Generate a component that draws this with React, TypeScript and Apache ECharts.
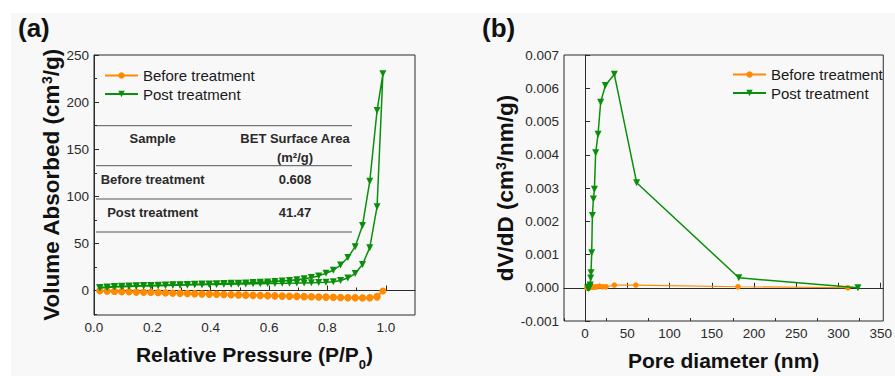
import React, { useEffect, useRef } from 'react';
import * as echarts from 'echarts';

// ---------- Panel (a): N2 adsorption-desorption isotherms ----------
const pressureAds = [0.02, 0.045, 0.07, 0.095, 0.12, 0.145, 0.17, 0.195, 0.22, 0.245, 0.27, 0.295, 0.32, 0.345, 0.37, 0.395, 0.42, 0.445, 0.47, 0.495, 0.52, 0.545, 0.57, 0.595, 0.62, 0.645, 0.67, 0.695, 0.72, 0.745, 0.77, 0.795, 0.82, 0.845, 0.87, 0.895, 0.92, 0.945, 0.97, 0.99];
const postAds = [2.6, 3.2, 3.6, 3.9, 4.2, 4.5, 4.7, 4.9, 5.1, 5.3, 5.5, 5.7, 5.9, 6.0, 6.2, 6.3, 6.5, 6.6, 6.7, 6.9, 7.0, 7.1, 7.2, 7.4, 7.5, 7.6, 7.8, 7.9, 8.1, 8.3, 8.5, 8.8, 9.4, 10.7, 13.2, 18.0, 27.6, 45.5, 89.0, 230.0];
const beforeAds = [-0.3, -0.7, -0.9, -1.2, -1.3, -1.6, -1.8, -1.9, -2.2, -2.3, -2.6, -2.7, -3.0, -3.1, -3.4, -3.5, -3.8, -3.9, -4.2, -4.3, -4.6, -4.7, -5.0, -5.1, -5.4, -5.5, -5.8, -5.9, -6.2, -6.3, -6.6, -6.7, -7.0, -7.1, -7.4, -7.5, -7.7, -7.5, -6.2, -0.6];

const pressureDes = [0.97, 0.945, 0.92, 0.895, 0.87, 0.845, 0.82, 0.795, 0.77, 0.745, 0.72, 0.695, 0.67, 0.645, 0.62, 0.595, 0.57, 0.545, 0.52, 0.495, 0.47, 0.445, 0.42, 0.395, 0.37, 0.345, 0.32, 0.295, 0.27, 0.245, 0.22, 0.195, 0.17, 0.145, 0.12, 0.095, 0.07, 0.045, 0.02];
const postDes = [191.0, 116.0, 69.0, 46.5, 35.0, 27.0, 21.5, 18.3, 15.5, 13.8, 12.5, 11.4, 10.6, 10.0, 9.5, 9.1, 8.7, 8.4, 8.1, 7.8, 7.6, 7.4, 7.2, 7.0, 6.8, 6.6, 6.4, 6.2, 6.0, 5.8, 5.6, 5.4, 5.2, 5.0, 4.8, 4.5, 4.2, 3.8, 3.2];
const beforeDes = [-7.0, -7.9, -8.0, -7.9, -7.8, -7.6, -7.4, -7.3, -7.1, -6.9, -6.8, -6.6, -6.4, -6.2, -6.0, -5.8, -5.6, -5.4, -5.2, -5.0, -4.8, -4.6, -4.3, -4.1, -3.9, -3.6, -3.4, -3.2, -2.9, -2.7, -2.4, -2.2, -1.9, -1.7, -1.4, -1.2, -0.9, -0.6, -0.3];

// ---------- Panel (b): pore size distribution ----------
const poreDiaPost = [3.0, 4.0, 4.5, 5.0, 5.5, 6.0, 6.6, 7.0, 7.8, 8.6, 9.8, 11.0, 12.5, 15.3, 18.4, 23.9, 34.6, 61.0, 182.0, 323.0];
const dvdDPost = [0.0, -0.00002, 0.0, 0.00001, 0.00003, 0.00008, 0.00029, 0.00045, 0.00105, 0.00217, 0.00267, 0.00296, 0.00406, 0.00462, 0.00558, 0.00608, 0.00642, 0.00316, 0.0003, 0.0];
const poreDiaBefore = [2.0, 3.0, 3.5, 4.0, 5.0, 6.0, 7.0, 8.0, 9.0, 10.0, 12.0, 14.0, 16.9, 20.8, 24.7, 34.6, 60.0, 181.0, 311.0];
const dvdDBefore = [0.0, 0.0, 0.0, 0.00001, 0.00001, 0.00001, 0.00001, 0.00002, 0.00002, 0.00002, 0.00002, 0.00003, 0.00005, 0.00003, 0.00003, 0.00008, 0.00008, 0.00003, 0.0];

// ---------- Ticks ----------
const aXTicks = [0, 0.2, 0.4, 0.6, 0.8, 1.0];
const aXMinor = [0.1, 0.3, 0.5, 0.7, 0.9];
const aYTicks = [0, 50, 100, 150, 200, 250];
const aYMinor = [-25, 25, 75, 125, 175, 225];
const bXTicks = [0, 50, 100, 150, 200, 250, 300, 350];
const bXMinor = [-25, 25, 75, 125, 175, 225, 275, 325];

// ---------- Inset table ----------
const tableHeaderSample = 'Sample';
const tableHeaderBET = 'BET Surface Area';
const tableHeaderUnit = '(m²/g)';
const tableSamples = ['Before treatment', 'Post treatment'];
const tableBET = ['0.608', '41.47'];

const seriesNames = ['Before treatment', 'Post treatment'];

const FONT = '"Liberation Sans", Arial, Helvetica, sans-serif';
const ORANGE = '#ff8a00';
const GREEN = '#0a8f0a';
const AXIS = '#2b2b2b';
const TXT = '#2a2a2a';

function zip(xs: number[], ys: number[]) {
  return xs.map((x, i) => [x, ys[i]]);
}

export default function App() {
  const ref = useRef<HTMLDivElement>(null);

  useEffect(() => {
    if (!ref.current) return;
    const chart = echarts.init(ref.current, undefined, { renderer: 'svg' });

    const labelStyle = { color: TXT, fontSize: 13.5, fontFamily: FONT, margin: 5 };
    const mainAxisCommon = {
      axisLine: { show: true, lineStyle: { color: AXIS, width: 1 } },
      axisTick: { show: true, inside: true, length: 5, lineStyle: { color: AXIS, width: 1 } },
      splitLine: { show: false },
    };
    const helperAxis = {
      axisLine: { show: false },
      axisLabel: { show: false },
      splitLine: { show: false },
    };

    const postA = [...zip(pressureAds, postAds), ...zip(pressureDes, postDes)];
    const beforeA = [...zip(pressureAds, beforeAds), ...zip(pressureDes, beforeDes)];

    const tableLineYs = [125.7, 165.7, 199, 232];
    const colA = 152.7;
    const colB = 295;
    const txt = (text: string, x: number, y: number) => ({
      type: 'text',
      silent: true,
      style: { text, x, y, align: 'center', verticalAlign: 'middle', fontSize: 13, fontWeight: 'bold', fontFamily: FONT, fill: TXT },
    });

    const legendCommon = {
      orient: 'vertical', itemWidth: 33, itemHeight: 8, itemGap: 3.5, padding: 0,
      data: seriesNames,
      textStyle: { fontSize: 15, color: '#1a1a1a', fontFamily: FONT, padding: [0, 0, 0, 0] },
    };

    const option: any = {
      animation: false,
      backgroundColor: '#ffffff',
      textStyle: { fontFamily: FONT },
      graphic: [
        { type: 'rect', silent: true, z: -100, shape: { x: 11, y: 13, width: 884, height: 363 }, style: { fill: '#f8f8f8' } },
        { type: 'text', silent: true, style: { text: '(a)', x: 18, y: 28, verticalAlign: 'middle', fontSize: 26, fontWeight: 'bold', fontFamily: FONT, fill: '#111' } },
        { type: 'text', silent: true, style: { text: '(b)', x: 482, y: 28, verticalAlign: 'middle', fontSize: 26, fontWeight: 'bold', fontFamily: FONT, fill: '#111' } },
        ...tableLineYs.map((y) => ({
          type: 'line', silent: true,
          shape: { x1: 96, y1: y, x2: 352, y2: y },
          style: { stroke: '#555', lineWidth: 1 },
        })),
        txt(tableHeaderSample, colA, 138),
        txt(tableHeaderBET, colB, 138),
        txt(tableHeaderUnit, colB, 157),
        txt(tableSamples[0], colA, 179),
        txt(tableBET[0], colB, 179),
        txt(tableSamples[1], colA, 212),
        txt(tableBET[1], colB, 212),
      ],
      legend: [
        { ...legendCommon, left: 104, top: 68 },
        { ...legendCommon, left: 732, top: 67 },
      ],
      grid: [
        { left: 94, top: 55, width: 321, height: 267, show: true, borderColor: AXIS, borderWidth: 1, backgroundColor: 'transparent' },
        { left: 564, top: 55, width: 321, height: 266, show: true, borderColor: AXIS, borderWidth: 1, backgroundColor: 'transparent' },
      ],
      xAxis: [
        {
          type: 'value', gridIndex: 0, position: 'bottom', min: 0, max: 1.1,
          ...mainAxisCommon,
          axisTick: { ...mainAxisCommon.axisTick, customValues: aXTicks },
          axisLabel: { ...labelStyle, customValues: aXTicks, formatter: (v: number) => v.toFixed(1) },
          name: 'Relative Pressure (P/P{sub|0})',
          nameLocation: 'middle', nameGap: 29,
          nameTextStyle: {
            fontSize: 21, fontWeight: 'bold', color: '#111', fontFamily: FONT,
            rich: { sub: { fontSize: 13, fontWeight: 'bold', color: '#111', fontFamily: FONT, verticalAlign: 'bottom', padding: [0, 0, -6, 0] } },
          },
        },
        {
          type: 'value', gridIndex: 0, position: 'bottom', min: 0, max: 1.1,
          ...helperAxis,
          axisTick: { show: true, inside: true, length: 3, customValues: aXMinor, lineStyle: { color: AXIS, width: 1 } },
        },
        {
          type: 'value', gridIndex: 1, position: 'bottom', min: -25, max: 353,
          ...mainAxisCommon,
          axisTick: { ...mainAxisCommon.axisTick, customValues: bXTicks },
          axisLabel: { ...labelStyle, customValues: bXTicks },
          name: 'Pore diameter (nm)',
          nameLocation: 'middle', nameGap: 29,
          nameTextStyle: { fontSize: 21, fontWeight: 'bold', color: '#111', fontFamily: FONT },
        },
        {
          type: 'value', gridIndex: 1, position: 'bottom', min: -25, max: 353,
          ...helperAxis,
          axisTick: { show: true, inside: true, length: 3, customValues: bXMinor, lineStyle: { color: AXIS, width: 1 } },
        },
      ],
      yAxis: [
        {
          type: 'value', gridIndex: 0, position: 'left', min: -26, max: 250,
          ...mainAxisCommon,
          axisTick: { ...mainAxisCommon.axisTick, customValues: aYTicks },
          axisLabel: { ...labelStyle, customValues: aYTicks },
          name: 'Volume Absorbed (cm{sup|3}/g)',
          nameLocation: 'middle', nameGap: 29,
          nameTextStyle: {
            fontSize: 22.5, fontWeight: 'bold', color: '#111', fontFamily: FONT,
            rich: { sup: { fontSize: 14, fontWeight: 'bold', color: '#111', fontFamily: FONT, verticalAlign: 'top' } },
          },
        },
        {
          type: 'value', gridIndex: 0, position: 'left', min: -26, max: 250,
          ...helperAxis,
          axisTick: { show: true, inside: true, length: 3, customValues: aYMinor, lineStyle: { color: AXIS, width: 1 } },
        },
        {
          type: 'value', gridIndex: 1, position: 'left', min: -0.001, max: 0.007, interval: 0.001,
          ...mainAxisCommon,
          axisLabel: { ...labelStyle, formatter: (v: number) => v.toFixed(3) },
          name: 'dV/dD (cm{sup|3}/nm/g)',
          nameLocation: 'middle', nameGap: 47,
          nameTextStyle: {
            fontSize: 22.5, fontWeight: 'bold', color: '#111', fontFamily: FONT,
            rich: { sup: { fontSize: 14, fontWeight: 'bold', color: '#111', fontFamily: FONT, verticalAlign: 'top' } },
          },
        },
      ],
      series: [
        {
          name: seriesNames[0], type: 'line', xAxisIndex: 0, yAxisIndex: 0,
          data: beforeA, symbol: 'circle', symbolSize: 7,
          lineStyle: { color: ORANGE, width: 1.5 }, itemStyle: { color: ORANGE },
          z: 3,
        },
        {
          name: seriesNames[1], type: 'line', xAxisIndex: 0, yAxisIndex: 0,
          data: postA, symbol: 'triangle', symbolRotate: 180, symbolSize: 7,
          lineStyle: { color: GREEN, width: 1.5 }, itemStyle: { color: GREEN },
          z: 4,
        },
        {
          name: seriesNames[0], type: 'line', xAxisIndex: 2, yAxisIndex: 2,
          data: zip(poreDiaBefore, dvdDBefore), symbol: 'circle', symbolSize: 5.5,
          lineStyle: { color: ORANGE, width: 1.2 }, itemStyle: { color: ORANGE },
          z: 3,
        },
        {
          name: seriesNames[1], type: 'line', xAxisIndex: 2, yAxisIndex: 2,
          data: zip(poreDiaPost, dvdDPost), symbol: 'triangle', symbolRotate: 180, symbolSize: 7,
          lineStyle: { color: GREEN, width: 1.5 }, itemStyle: { color: GREEN },
          z: 4,
        },
      ],
    };

    chart.setOption(option);
    return () => chart.dispose();
  }, []);

  return <div ref={ref} style={{ position: 'fixed', left: 0, top: 0, width: 895, height: 376 }} />;
}
